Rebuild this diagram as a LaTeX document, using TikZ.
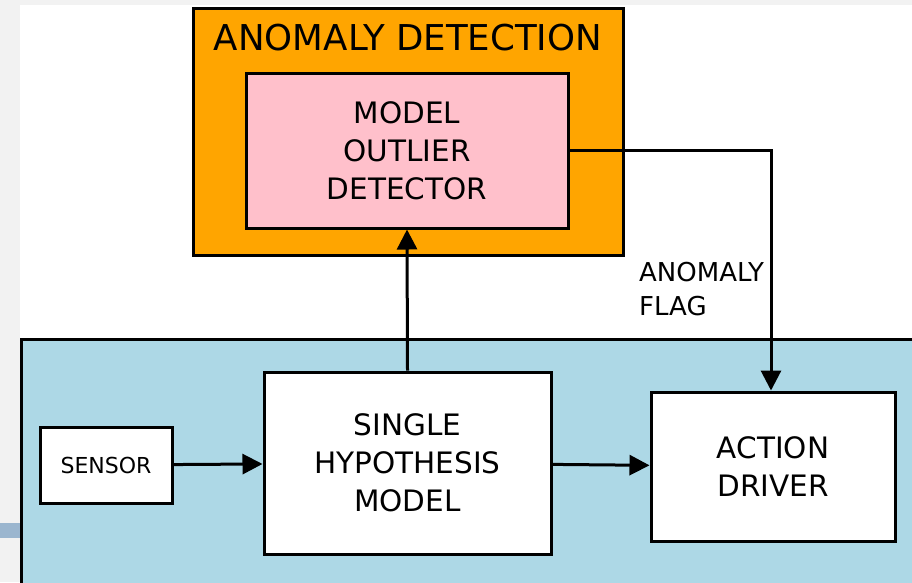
\documentclass[tikz,border=0pt]{standalone}
\usepackage{fontspec}
\setmainfont{DejaVu Sans}
\usetikzlibrary{arrows.meta}
\definecolor{pagegray}{HTML}{F2F2F2}
\definecolor{tabblue}{HTML}{9BB6CF}
\definecolor{sysblue}{HTML}{ADD8E6}
\definecolor{detorange}{HTML}{FFA500}
\definecolor{detpink}{HTML}{FFC0CB}
\tikzset{
  block/.style={draw=black, line width=3pt, rectangle, inner sep=0pt, align=center,
    font=\fontsize{29.5}{38}\selectfont},
  flow/.style={draw=black, line width=3pt, -{Triangle[length=20pt,width=20pt]}},
}
\begin{document}
\begin{tikzpicture}[x=1pt,y=-1pt]
  \useasboundingbox (0,0) rectangle (912,582);
  % page background and white canvas
  \fill[pagegray] (0,0) rectangle (912,582);
  \fill[white] (20,5) rectangle (912,582);
  \fill[tabblue] (0,523) rectangle (20,538);
  % system container
  \draw[fill=sysblue, line width=3pt] (21,339) rectangle (916,588);
  % anomaly detection container
  \node[block, fill=detorange, minimum width=430pt, minimum height=247pt] (det) at (408,131.5) {};
  \node[font=\fontsize{35.6}{40}\selectfont, anchor=base] (dettitle) at (408,50) {ANOMALY DETECTION};
  \node[block, fill=detpink, minimum width=322pt, minimum height=155pt] (pink) at (407,150.5)
    {MODEL\\OUTLIER\\DETECTOR};
  % blocks inside the system
  \node[block, fill=white, minimum width=132pt, minimum height=76pt,
    font=\fontsize{22}{26}\selectfont] (sensor) at (106,465) {SENSOR};
  \node[block, fill=white, minimum width=287pt, minimum height=182pt] (shm) at (407.5,463)
    {SINGLE\\HYPOTHESIS\\MODEL};
  \node[block, fill=white, minimum width=244pt, minimum height=149pt] (action) at (773,466.5)
    {ACTION\\DRIVER};
  % connectors
  \draw[flow] (sensor) -- (shm);
  \draw[flow] (shm) -- (action);
  \draw[flow] (shm.north) -- (pink.south);
  \draw[flow] (pink.east) -| ([xshift=-2pt]action.north);
  \node[anchor=north west, align=left, inner sep=0pt,
    font=\fontsize{26}{34}\selectfont] (flag) at (639,262) {ANOMALY\\FLAG};
\end{tikzpicture}
\end{document}
